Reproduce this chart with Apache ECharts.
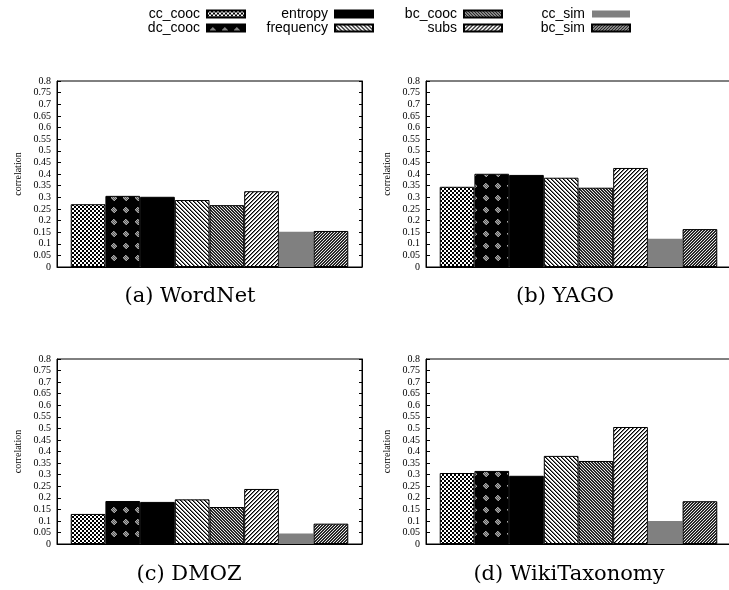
<!DOCTYPE html>
<html>
<head>
<meta charset="utf-8">
<script src="https://cdn.jsdelivr.net/npm/echarts@6/dist/echarts.min.js"></script>
<style>html,body{margin:0;padding:0;background:#fff}#c{width:729px;height:590px}</style>
</head>
<body>
<div id="c"></div>
<script>
// ---- data ----
const panels = ['(a) WordNet', '(b) YAGO', '(c) DMOZ', '(d) WikiTaxonomy'];
const seriesNames = ['cc_cooc', 'dc_cooc', 'entropy', 'frequency', 'bc_cooc', 'subs', 'cc_sim', 'bc_sim'];
const cc_cooc   = [0.270, 0.345, 0.130, 0.307];
const dc_cooc   = [0.306, 0.401, 0.186, 0.316];
const entropy   = [0.302, 0.396, 0.182, 0.295];
const frequency = [0.288, 0.384, 0.193, 0.381];
const bc_cooc   = [0.266, 0.341, 0.160, 0.359];
const subs      = [0.326, 0.426, 0.238, 0.506];
const cc_sim    = [0.152, 0.122, 0.045, 0.099];
const bc_sim    = [0.155, 0.163, 0.088, 0.185];
const values = [cc_cooc, dc_cooc, entropy, frequency, bc_cooc, subs, cc_sim, bc_sim];
const yMin = 0, yMax = 0.8, yStep = 0.05;

// ---- patterns ----
function tile(n, fn) {
  const cv = document.createElement('canvas');
  cv.width = n; cv.height = n;
  const ctx = cv.getContext('2d');
  const img = ctx.createImageData(n, n);
  for (let y = 0; y < n; y++) for (let x = 0; x < n; x++) {
    const v = fn(x, y);
    const i = (y * n + x) * 4;
    img.data[i] = img.data[i+1] = img.data[i+2] = v; img.data[i+3] = 255;
  }
  ctx.putImageData(img, 0, 0);
  return { image: cv, repeat: 'repeat' };
}
const mod = (a, n) => ((a % n) + n) % n;
const patterns = [
  // cc_cooc: crosshatch / checker
  tile(4, (x, y) => ((Math.floor(x/2) + Math.floor(y/2)) % 2 === 0) ? 0 : 255),
  // dc_cooc: black with gray dots
  tile(12, (x, y) => { const dx = x - 5.5, dy = y - 5.5; return (dx*dx + dy*dy < 8) ? ((x + y) % 2 ? 90 : 170) : 0; }),
  // entropy: solid black
  '#000',
  // frequency: "\" lines
  tile(4, (x, y) => { const m = mod(x - y, 4); return m === 0 ? 0 : (m === 1 ? 120 : 255); }),
  // bc_cooc: dense "\"
  tile(3, (x, y) => mod(x - y, 3) < 2 ? 40 : 230),
  // subs: "/" lines
  tile(4, (x, y) => { const m = mod(x + y, 4); return m === 0 ? 0 : (m === 1 ? 120 : 255); }),
  // cc_sim: gray
  '#808080',
  // bc_sim: dense "/"
  tile(3, (x, y) => mod(x + y, 3) < 2 ? 40 : 230)
];

const grids = [
  { left: 57, top: 81, width: 305, height: 186 },
  { left: 426, top: 81, width: 305, height: 186 },
  { left: 57, top: 359, width: 305, height: 185 },
  { left: 426, top: 359, width: 305, height: 185 }
];
const captionPos = [[190, 297], [565, 297], [189, 575], [569, 575]];

const serif = 'Liberation Serif';
const xAxis = [], yAxis = [], series = [];
grids.forEach((g, gi) => {
  g.show = true; g.borderColor = '#000'; g.borderWidth = 1; g.outerBoundsMode = 'none'; g.containLabel = false;
  xAxis.push({ type: 'category', gridIndex: gi, data: [panels[gi]],
    axisLabel: { show: false }, axisTick: { show: false },
    axisLine: { lineStyle: { color: '#000', width: 1 } } });
  yAxis.push({ type: 'value', gridIndex: gi, min: yMin, max: yMax, interval: yStep,
    name: 'correlation', nameLocation: 'middle', nameGap: 34, nameRotate: 90,
    nameTextStyle: { fontFamily: serif, fontSize: 10, color: '#000' },
    axisLine: { show: true, lineStyle: { color: '#000' } },
    axisTick: { show: true, inside: true, length: 4, lineStyle: { color: '#000' } },
    axisLabel: { fontFamily: serif, fontSize: 10, color: '#000', margin: 6 },
    splitLine: { show: false } });
  yAxis.push({ type: 'value', gridIndex: gi, position: 'right', min: yMin, max: yMax, interval: yStep,
    axisLine: { show: true, lineStyle: { color: '#000' } },
    axisTick: { show: gi % 2 === 0, inside: true, length: 3, lineStyle: { color: '#000' } },
    axisLabel: { show: false }, splitLine: { show: false } });
  seriesNames.forEach((name, si) => {
    series.push({ type: 'bar', name, xAxisIndex: gi, yAxisIndex: gi * 2,
      data: [values[si][gi]], barGap: '0%', barCategoryGap: '9%',
      itemStyle: { color: patterns[si], borderColor: '#000', borderWidth: si === 6 ? 0 : 1 },
      emphasis: { disabled: true }, animation: false });
  });
});

const legendCols = [[0, 1, 729 - 246], [2, 3, 729 - 374], [4, 5, 729 - 503], [6, 7, 729 - 631]];
const legend = legendCols.map(c => ({
  orient: 'vertical', align: 'right', top: 7, right: c[2],
  data: [seriesNames[c[0]], seriesNames[c[1]]],
  icon: 'rect',
  itemWidth: 38, itemHeight: 7, itemGap: 0, padding: 0,
  selectedMode: false,
  textStyle: { fontFamily: 'Liberation Sans', fontSize: 14, color: '#000', lineHeight: 13, padding: [0, 2, 0, 0] }
}));

const graphic = panels.map((p, i) => ({
  type: 'text', x: captionPos[i][0], y: captionPos[i][1],
  style: { text: p, font: '21px "DejaVu Serif"', fill: '#000', textAlign: 'center', textVerticalAlign: 'middle' }
}));

const chart = echarts.init(document.getElementById('c'), null, { renderer: 'canvas' });
chart.setOption({ animation: false, grid: grids, xAxis, yAxis, series, legend, graphic });
</script>
</body>
</html>
